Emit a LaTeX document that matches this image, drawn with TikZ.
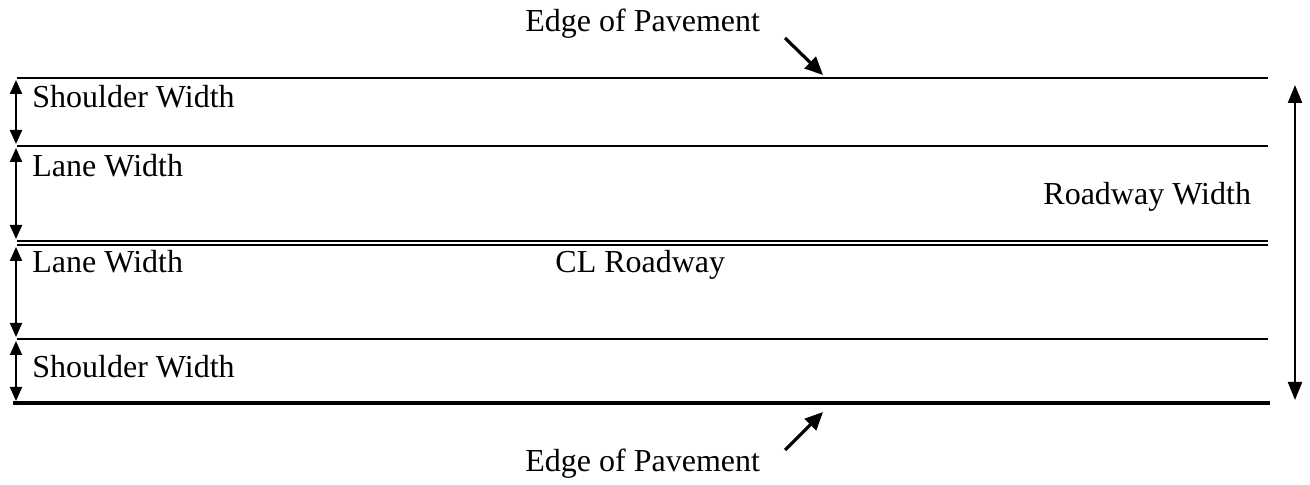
\documentclass[tikz,border=0pt]{standalone}
\usepackage{fontspec}
\setmainfont{Liberation Serif}
\usetikzlibrary{arrows.meta}
\begin{document}
\begin{tikzpicture}[x=0.5pt,y=-0.5pt,
    roadline/.style={line width=1.1pt},
    dimarrow/.style={line width=1.1pt,{Triangle[length=7pt,width=6pt]}-{Triangle[length=7pt,width=6pt]}},
    longarrow/.style={line width=1.1pt,{Triangle[length=9pt,width=7pt]}-{Triangle[length=9pt,width=7pt]}},
    pointer/.style={line width=1.6pt,-{Triangle[length=9pt,width=8pt]}},
    lbl/.style={inner sep=0pt,font=\fontsize{16}{19}\selectfont}]
  \useasboundingbox (0,0) rectangle (1310,485);

  % Lane lines
  \foreach \y/\n in {78/T,146/A,241/C1,245/C2,339/B}{
    \coordinate (L-\n) at (17,\y);
    \coordinate (R-\n) at (1268,\y);
    \draw[roadline] (L-\n) -- (R-\n);
  }
  % Edge of pavement (bottom)
  \coordinate (L-E) at (13,403);
  \coordinate (R-E) at (1270,403);
  \draw[line width=2.2pt] (L-E) -- (R-E);

  % Width arrows on the left
  \foreach \a/\b [count=\i] in {80/144,148/239,247/337,341/401}{
    \coordinate (W-\i-a) at (16,\a);
    \coordinate (W-\i-b) at (16,\b);
    \draw[dimarrow] (W-\i-a) -- (W-\i-b);
  }

  % Roadway width
  \coordinate (RW-a) at (1295,85);
  \coordinate (RW-b) at (1295,400);
  \draw[longarrow] (RW-a) -- (RW-b);

  % Labels
  \node[lbl,anchor=base west] (sw-top) at (32,108) {Shoulder Width};
  \node[lbl,anchor=base west] (lw-top) at (32,177) {Lane Width};
  \node[lbl,anchor=base west] (lw-bot) at (32,273) {Lane Width};
  \node[lbl,anchor=base west] (sw-bot) at (32,378) {Shoulder Width};
  \node[lbl,anchor=base west] (cl) at (555,273) {CL Roadway};
  \node[lbl,anchor=base west] (rw) at (1043,205) {Roadway Width};
  \node[lbl,anchor=base west] (ep-top) at (525,32) {Edge of Pavement};
  \node[lbl,anchor=base west] (ep-bot) at (525,472) {Edge of Pavement};

  % Pointers to the pavement edges
  \coordinate (P-top-a) at (785,38);
  \coordinate (P-top-b) at (823,75);
  \coordinate (P-bot-a) at (785,450);
  \coordinate (P-bot-b) at (823,412);
  \draw[pointer] (P-top-a) -- (P-top-b);
  \draw[pointer] (P-bot-a) -- (P-bot-b);
\end{tikzpicture}
\end{document}
